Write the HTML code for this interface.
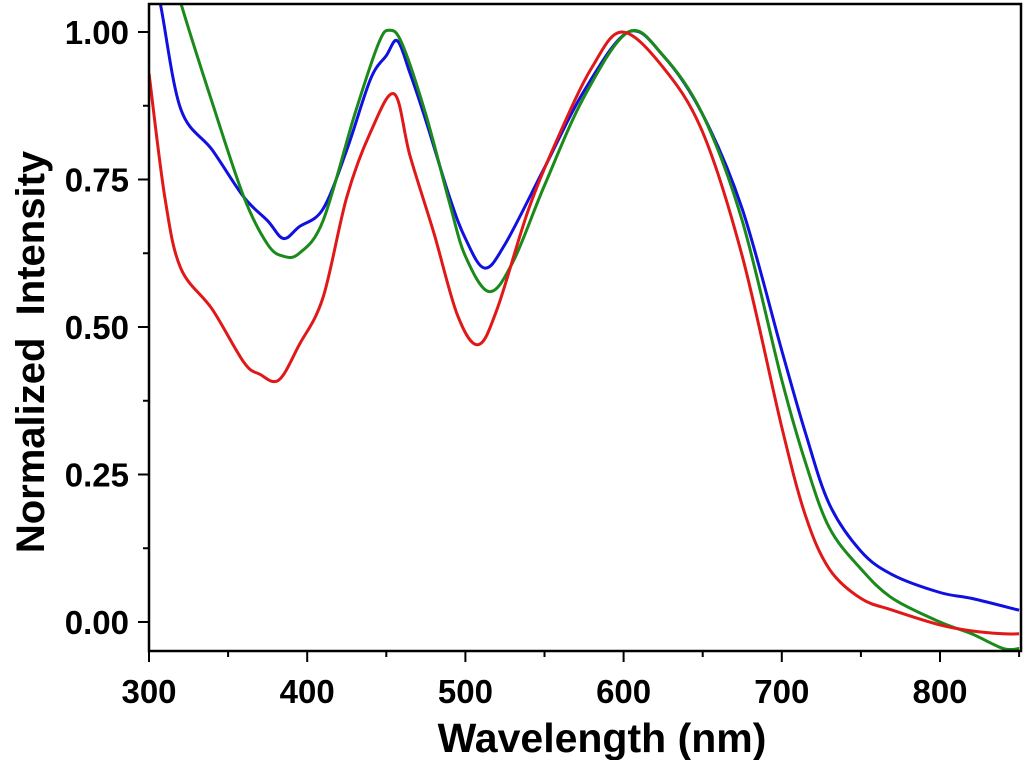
<!DOCTYPE html>
<html><head><meta charset="utf-8"><style>
body{margin:0;background:#fff;width:1024px;height:760px;overflow:hidden}
text{font-family:"Liberation Sans",sans-serif;font-weight:bold;fill:#000}
</style></head><body>
<svg id="chart" width="1024" height="760" xmlns="http://www.w3.org/2000/svg">
<defs><clipPath id="clip"><rect x="149" y="4" width="872" height="647"/></clipPath></defs>
<g id="series" clip-path="url(#clip)"></g>
<rect x="149" y="4" width="872" height="647" fill="none" stroke="#000" stroke-width="2.5"/>
<g id="axes"></g>
<text x="602" y="752" font-size="41" text-anchor="middle">Wavelength (nm)</text>
<text transform="translate(44,352) rotate(-90)" font-size="40" text-anchor="middle" xml:space="preserve">Normalized  Intensity</text>
</svg>
<script>
const xTicks=[300,400,500,600,700,800];
const xTickLabels=["300","400","500","600","700","800"];
const yTicks=[0,0.25,0.5,0.75,1.0];
const yTickLabels=["0.00","0.25","0.50","0.75","1.00"];
const blueX=[300,307,320,340,360,375,385,395,410,425,440,450,457,465,475,490,500,512,525,550,575,603,625,650,675,700,715,730,750,770,800,820,850];
const blueY=[1.12,1.05,0.87,0.80,0.72,0.68,0.65,0.67,0.70,0.80,0.92,0.96,0.985,0.93,0.85,0.72,0.65,0.60,0.64,0.77,0.90,1.0,0.96,0.86,0.70,0.46,0.32,0.20,0.12,0.08,0.05,0.04,0.02];
const greenX=[310,320,340,360,375,385,395,410,430,445,452,460,475,490,500,515,530,550,575,603,625,650,675,700,715,730,750,770,800,820,840,850];
const greenY=[1.15,1.05,0.88,0.72,0.64,0.62,0.625,0.68,0.86,0.98,1.003,0.98,0.86,0.71,0.62,0.56,0.61,0.74,0.89,1.0,0.96,0.86,0.68,0.41,0.27,0.16,0.09,0.04,0.0,-0.02,-0.045,-0.045];
const redX=[300,310,320,340,360,370,382,395,410,425,440,455,465,480,495,508,520,540,560,580,599,625,650,675,700,715,730,750,770,800,820,840,850];
const redY=[0.93,0.72,0.60,0.53,0.44,0.42,0.41,0.47,0.55,0.72,0.83,0.895,0.79,0.66,0.52,0.47,0.53,0.70,0.83,0.94,1.0,0.94,0.83,0.62,0.33,0.18,0.09,0.04,0.02,-0.005,-0.015,-0.02,-0.02];
const NS='http://www.w3.org/2000/svg';
const xs=v=>149+(v-300)*1.582;
const ys=v=>622-v*590;
function path(X,Y){
  const p=X.map((x,i)=>[xs(x),ys(Y[i])]);
  let d='M'+p[0][0]+','+p[0][1];
  for(let i=0;i<p.length-1;i++){
    const p0=p[i-1]||p[i],p1=p[i],p2=p[i+1],p3=p[i+2]||p2;
    const c1=[p1[0]+(p2[0]-p0[0])/6,p1[1]+(p2[1]-p0[1])/6];
    const c2=[p2[0]-(p3[0]-p1[0])/6,p2[1]-(p3[1]-p1[1])/6];
    d+=' C'+c1+' '+c2+' '+p2;
  }
  return d;
}
const g=document.getElementById('series');
[[blueX,blueY,'#1010e0','blue-series'],[greenX,greenY,'#1a8a1a','green-series'],[redX,redY,'#e01818','red-series']].forEach(s=>{
  const el=document.createElementNS(NS,'path');
  el.setAttribute('d',path(s[0],s[1]));
  el.setAttribute('fill','none');el.setAttribute('stroke',s[2]);el.setAttribute('stroke-width','3');
  
  
  g.appendChild(el);
});
const a=document.getElementById('axes');
function ln(x1,y1,x2,y2,n){const l=document.createElementNS(NS,'line');l.setAttribute('x1',x1);l.setAttribute('y1',y1);l.setAttribute('x2',x2);l.setAttribute('y2',y2);l.setAttribute('stroke','#000');l.setAttribute('stroke-width','2');


a.appendChild(l);}
function tx(x,y,s,anchor,n){const t=document.createElementNS(NS,'text');t.setAttribute('x',x);t.setAttribute('y',y);t.setAttribute('font-size','33');t.setAttribute('text-anchor',anchor);t.textContent=s;


a.appendChild(t);}
xTicks.forEach((v,i)=>{ln(xs(v),651,xs(v),662,'x-tick');tx(xs(v),703,xTickLabels[i],'middle','x-tick-label');});
xTicks.forEach(v=>{if(v+50<=850)ln(xs(v+50),651,xs(v+50),657,'x-minor-tick');});
yTicks.forEach((v,i)=>{ln(138,ys(v),149,ys(v),'y-tick');tx(129,ys(v)+12,yTickLabels[i],'end','y-tick-label');});
yTicks.forEach(v=>{if(v+0.125<1.05)ln(143,ys(v+0.125),149,ys(v+0.125),'y-minor-tick');});
</script>
</body></html>
